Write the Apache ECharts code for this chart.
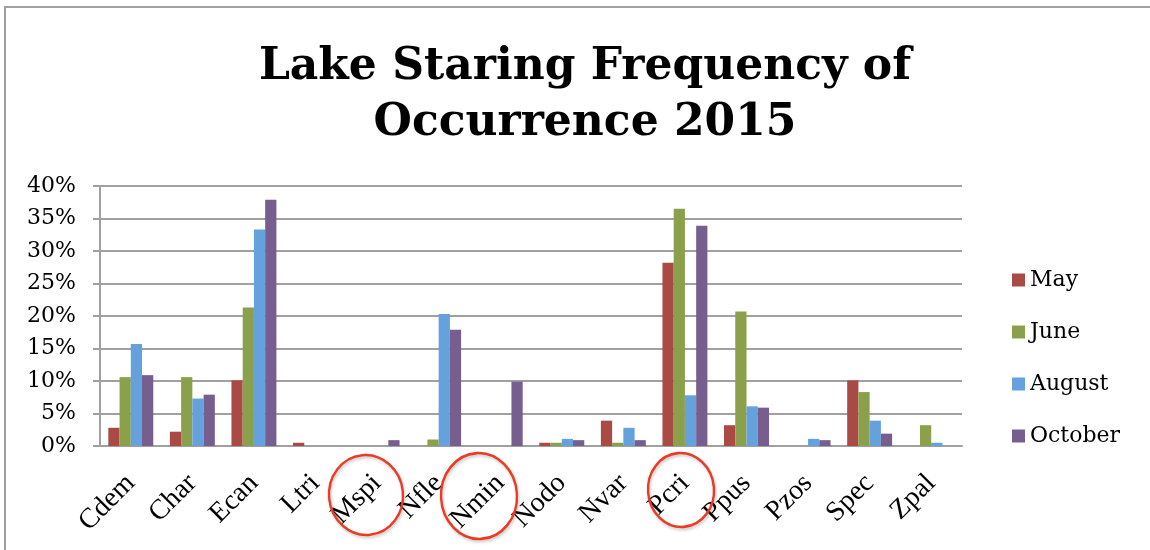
<!DOCTYPE html>
<html>
<head>
<meta charset="utf-8">
<script src="https://cdn.jsdelivr.net/npm/echarts@6/dist/echarts.min.js"></script>
<style>
  html, body { margin: 0; padding: 0; background: #fff; }
  #chart { width: 1150px; height: 550px; }
</style>
</head>
<body>
<div id="chart"></div>
<script>
// species codes on the x axis
var species = ['Cdem', 'Char', 'Ecan', 'Ltri', 'Mspi', 'Nfle', 'Nmin', 'Nodo', 'Nvar', 'Pcri', 'Ppus', 'Pzos', 'Spec', 'Zpal'];
// frequency of occurrence, in %
var may     = [2.8, 2.2, 10.1, 0.5, 0,   0,    0,   0.5, 3.9, 28.2, 3.2,  0,   10.1, 0];
var june    = [10.6, 10.6, 21.3, 0, 0,   1.0,  0,   0.5, 0.5, 36.5, 20.7, 0,   8.3,  3.2];
var august  = [15.7, 7.3, 33.3, 0,  0,   20.3, 0,   1.1, 2.8, 7.8,  6.1,  1.1, 3.9,  0.5];
var october = [10.9, 7.9, 37.9, 0,  0.9, 17.9, 9.9, 0.9, 0.9, 33.9, 5.9,  0.9, 1.9,  0];
var months = ['May', 'June', 'August', 'October'];
var yTicks = [0, 5, 10, 15, 20, 25, 30, 35, 40];

var colors = ['#a94b44', '#8ba04a', '#64a1dd', '#765e8f'];
var serif = '"DejaVu Serif", "Liberation Serif", serif';
var times = '"Liberation Serif", serif';

var chartsObj = echarts.init(document.getElementById('chart'));

function bar(name, data) {
    return {
        name: name,
        type: 'bar',
        data: data,
        barGap: '0%',
        barCategoryGap: '27%'
    };
}

// red hand-drawn style circles around some labels
function ring(cx, cy, rx, ry, rot) {
    return {
        type: 'circle',
        x: cx, y: cy,
        scaleX: rx / 40, scaleY: ry / 40,
        rotation: rot,
        shape: { cx: 0, cy: 0, r: 40 },
        style: {
            fill: 'none',
            stroke: '#ec3a24',
            lineWidth: 2.4 * 40 / rx,
            shadowColor: 'rgba(0,0,0,0.22)',
            shadowBlur: 3,
            shadowOffsetX: 1,
            shadowOffsetY: 2
        },
        z: 100
    };
}

var option = {
    animation: false,
    color: colors,
    title: {
        text: 'Lake Staring Frequency of\nOccurrence 2015',
        left: 580,
        textAlign: 'center',
        top: 35,
        textStyle: {
            fontFamily: serif,
            fontWeight: 'bold',
            fontSize: 44,
            lineHeight: 56,
            color: '#000'
        }
    },
    legend: {
        orient: 'vertical',
        left: 1007,
        top: 264,
        itemWidth: 13,
        itemHeight: 13,
        itemGap: 30,
        icon: 'rect',
        data: months,
        textStyle: {
            fontFamily: serif,
            fontSize: 22,
            color: '#000'
        }
    },
    grid: {
        left: 100,
        right: 188,
        top: 186,
        bottom: 104
    },
    xAxis: {
        type: 'category',
        data: species,
        axisTick: { show: false },
        axisLine: { lineStyle: { color: '#a0a0a0', width: 2 } },
        axisLabel: {
            rotate: 45,
            interval: 0,
            margin: 33,
            fontFamily: times,
            fontSize: 28,
            color: '#000',
            padding: [31, 0, 0, 0]
        }
    },
    yAxis: {
        type: 'value',
        min: yTicks[0],
        max: yTicks[yTicks.length - 1],
        interval: 5,
        axisLine: { show: true, lineStyle: { color: '#a0a0a0', width: 2 } },
        axisTick: { show: true, length: 7, lineStyle: { color: '#a0a0a0', width: 2 } },
        splitLine: { lineStyle: { color: '#a0a0a0', width: 2 } },
        axisLabel: {
            margin: 24,
            fontFamily: serif,
            fontSize: 22,
            color: '#000',
            formatter: '{value}%'
        }
    },
    series: [
        bar(months[0], may),
        bar(months[1], june),
        bar(months[2], august),
        bar(months[3], october)
    ],
    graphic: [
        {
            type: 'rect',
            shape: { x: 5, y: 7, width: 1300, height: 700 },
            style: { fill: 'none', stroke: '#a0a0a0', lineWidth: 2 },
            z: -1
        },
        ring(366, 495, 37, 40, 0.1),
        ring(479, 496, 38, 43, 0.05),
        ring(681, 490, 33, 37, 0.08)
    ]
};

chartsObj.setOption(option);
</script>
</body>
</html>
